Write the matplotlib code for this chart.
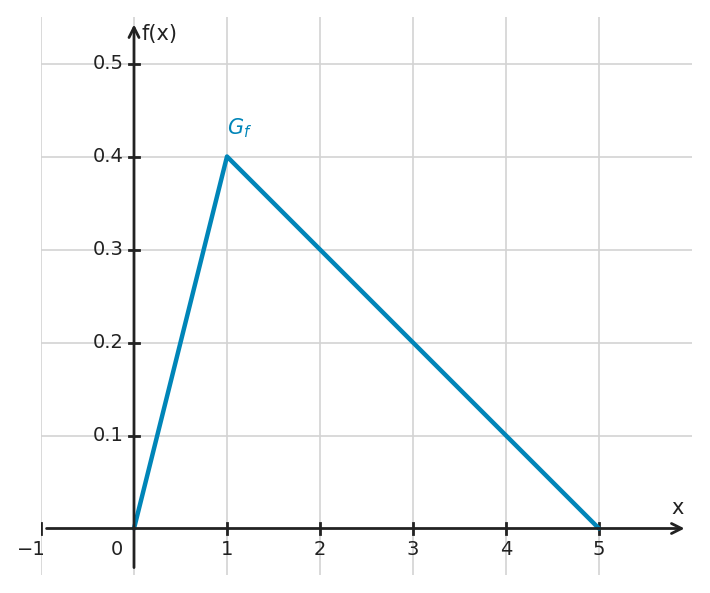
import matplotlib
matplotlib.use("Agg")
import matplotlib.pyplot as plt

xs = [0, 1, 5]
ys = [0, 0.4, 0]
xticks = [-1, 1, 2, 3, 4, 5]
yticks = [0.1, 0.2, 0.3, 0.4, 0.5]
color = "#0085b8"
dark = "#222222"

fig = plt.figure(figsize=(7.1, 5.93), dpi=100)
ax = fig.add_axes([41/710, 18/593, 651/710, 558/593])
ax.set_xlim(-1, 6)
ax.set_ylim(-0.05, 0.55)
ax.axis("off")

for x in [-1, 0, 1, 2, 3, 4, 5]:
    ax.axvline(x, color="#d3d3d3", lw=1.2, zorder=0)
for y in yticks:
    ax.axhline(y, color="#d3d3d3", lw=1.2, zorder=0)

ax.annotate("", xy=(5.95, 0), xytext=(-0.97, 0),
            arrowprops=dict(arrowstyle="->", color=dark, lw=2, mutation_scale=18), annotation_clip=False)
ax.annotate("", xy=(0, 0.545), xytext=(0, -0.045),
            arrowprops=dict(arrowstyle="->", color=dark, lw=2, mutation_scale=18), annotation_clip=False)

fs = 14
for x in xticks:
    ax.plot([x, x], [-0.006, 0.006], color=dark, lw=2)
    lab = "\u22121" if x < 0 else str(x)
    ax.text(x - (0.1 if x < 0 else 0), -0.012, lab, ha="center", va="top", fontsize=fs, color=dark)
ax.text(-0.18, -0.012, "0", ha="center", va="top", fontsize=fs, color=dark)
for y in yticks:
    ax.plot([-0.05, 0.05], [y, y], color=dark, lw=2)
    ax.text(-0.11, y, f"{y:.1f}", ha="right", va="center", fontsize=fs, color=dark)

ax.text(0.08, 0.532, "f(x)", ha="left", va="center", fontsize=15, color=dark)
ax.text(5.84, 0.022, "x", ha="center", va="center", fontsize=15, color=dark)

ax.plot(xs, ys, color=color, lw=3.2, solid_capstyle="round")
ax.text(1.0, 0.418, "$G_f$", ha="left", va="bottom", fontsize=15, color=color)

fig.savefig("out.png", dpi=100)
